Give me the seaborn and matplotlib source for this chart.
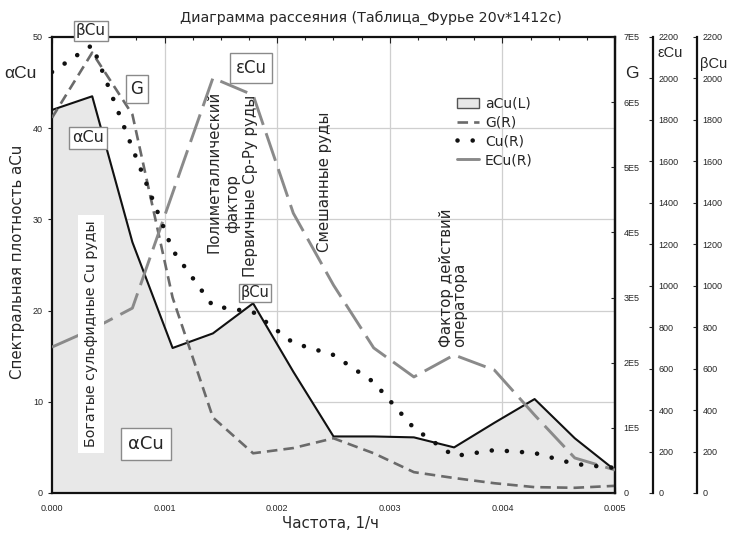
import numpy as np
import pandas as pd
import matplotlib
matplotlib.use("Agg")
import matplotlib.pyplot as plt
from matplotlib.lines import Line2D
from matplotlib.patches import Patch
from matplotlib.ticker import FixedLocator, MultipleLocator
import seaborn as sns

# ---------------- data ----------------
freq = [0.0, 0.000357, 0.000714, 0.001071, 0.001429, 0.001786, 0.002143, 0.0025,
        0.002857, 0.003214, 0.003571, 0.003929, 0.004286, 0.004643, 0.005]
aCu = [42.0, 43.5, 27.5, 15.9, 17.5, 20.8, 13.3, 6.2, 6.2, 6.1, 5.0, 7.7, 10.3, 6.0, 2.5]
G = [5.76e5, 6.76e5, 5.81e5, 3.0e5, 1.16e5, 0.61e5, 0.69e5, 0.84e5, 0.61e5, 0.32e5,
     0.23e5, 0.15e5, 0.09e5, 0.08e5, 0.11e5]
Cu = [2031, 2161, 1664, 1172, 902, 873, 724, 666, 535, 313, 178, 207, 193, 140, 121]
ECu = [704, 790, 892, 1447, 2002, 1920, 1350, 1003, 700, 560, 666, 593, 376, 169, 111]

x_ticks = [0.0, 0.001, 0.002, 0.003, 0.004, 0.005]
x_ticklabels = ["0.000", "0.001", "0.002", "0.003", "0.004", "0.005"]
left_ticks = [0, 10, 20, 30, 40, 50]
g_ticks = [0, 1e5, 2e5, 3e5, 4e5, 5e5, 6e5, 7e5]
g_ticklabels = ["0", "1E5", "2E5", "3E5", "4E5", "5E5", "6E5", "7E5"]
r_ticks = [0, 200, 400, 600, 800, 1000, 1200, 1400, 1600, 1800, 2000, 2200]

title = "Диаграмма рассеяния (Таблица_Фурье 20v*1412c)"
xlabel = "Частота, 1/ч"
ylabel = "Спектральная плотность aCu"
legend_labels = ["aCu(L)", "G(R)", "Cu(R)", "ECu(R)"]

df = pd.DataFrame({"freq": freq, "aCu": aCu, "G": G, "Cu": Cu, "ECu": ECu})

# ---------------- style ----------------
sns.set_theme(style="white")
plt.rcParams["font.family"] = ["Liberation Sans", "DejaVu Sans"]
WIDE = ["DejaVu Sans"]

W, H = 731, 539
fig = plt.figure(figsize=(W / 100, H / 100), dpi=100)
L, R, T, B = 52, 615, 37, 493
ax = fig.add_axes([L / W, 1 - B / H, (R - L) / W, (B - T) / H])


def P(px, py):
    return (px / W, 1 - py / H)


DOT = (0, (0.01, 3.3))
GDASH = (0, (4.0, 2.3))
EDASH = (0, (10, 3.0))

# main axis (aCu, left)
ax.set_xlim(0, 0.005)
ax.set_ylim(0, 50)
ax.fill_between(df["freq"], df["aCu"], color="#e8e8e8", zorder=1)
sns.lineplot(data=df, x="freq", y="aCu", ax=ax, color="#111111", lw=1.5, sort=False, zorder=3)
for xv in x_ticks[1:-1]:
    ax.axvline(xv, color="#cfcfcf", lw=0.9, zorder=0.5)
for yv in left_ticks[1:-1]:
    ax.axhline(yv, color="#cfcfcf", lw=0.9, zorder=0.5)
ax.set_xticks(x_ticks)
ax.set_xticklabels(x_ticklabels)
ax.set_yticks(left_ticks)
ax.xaxis.set_minor_locator(MultipleLocator(0.00025))
ax.tick_params(axis="x", which="both", direction="in", top=True, bottom=True,
               labelsize=6.5, pad=8, length=4, width=0.8, color="#222")
ax.tick_params(axis="x", which="minor", length=2)
ax.tick_params(axis="y", direction="out", labelsize=6.5, length=3, width=0.8, color="#222")
ax.set_xlabel("")
ax.set_ylabel("")
for s in ax.spines.values():
    s.set_color("#111111")
    s.set_linewidth(1.6)

# G axis (right spine)
axG = ax.twinx()
axG.set_ylim(0, 7e5)
sns.lineplot(data=df, x="freq", y="G", ax=axG, color="#6a6a6a", lw=1.9, sort=False,
             linestyle=GDASH)
axG.yaxis.set_major_locator(FixedLocator(g_ticks))
axG.set_yticklabels(g_ticklabels)
axG.tick_params(axis="y", direction="in", labelsize=6.5, length=3, width=0.8, pad=6)
axG.set_ylabel("")
axG.set_xlabel("")

# ECu axis
axE = ax.twinx()
axE.spines["right"].set_position(("axes", (653 - L) / (R - L)))
axE.set_ylim(0, 2200)
sns.lineplot(data=df, x="freq", y="ECu", ax=axE, color="#8a8a8a", lw=2.1, sort=False,
             linestyle=EDASH)
axE.set_yticks(r_ticks)
axE.tick_params(axis="y", direction="in", labelsize=6.5, length=3, width=0.8, pad=4)
axE.set_ylabel("")
axE.set_xlabel("")

# Cu axis (beta)
axB = ax.twinx()
axB.spines["right"].set_position(("axes", (697 - L) / (R - L)))
axB.set_ylim(0, 2200)
sns.lineplot(data=df, x="freq", y="Cu", ax=axB, color="#111111", lw=3.3, sort=False,
             linestyle=DOT, dash_capstyle="round")
axB.set_yticks(r_ticks)
axB.tick_params(axis="y", direction="in", labelsize=6.5, length=3, width=0.8, pad=4)
axB.set_ylabel("")
axB.set_xlabel("")

for a in (axG, axE, axB):
    for name, s in a.spines.items():
        if name != "right":
            s.set_visible(False)
        else:
            s.set_color("#111111")
            s.set_linewidth(1.6)
    a.set_xlim(0, 0.005)
    a.grid(False)

# ---------------- texts ----------------
fig.text(*P(371, 18), title, ha="center", va="center", fontsize=10.3, family=WIDE)
fig.text(*P(330, 523), xlabel, ha="center", va="center", fontsize=10.8, family=WIDE)
fig.text(*P(18, 262), ylabel, ha="center", va="center", rotation=90, fontsize=10.8,
         family=WIDE)
fig.text(*P(20, 73), "αCu", ha="center", va="center", fontsize=12.5)
fig.text(*P(632, 73), "G", ha="center", va="center", fontsize=12.5)
fig.text(*P(670, 53), "εCu", ha="center", va="center", fontsize=10.5)
fig.text(*P(714, 64), "βCu", ha="center", va="center", fontsize=10.5)


def box(pad):
    return dict(boxstyle=f"square,pad={pad}", fc="white", ec="#8a8a8a", lw=1.0)


fig.text(*P(91, 31), "βCu", ha="center", va="center", fontsize=11, bbox=box(0.15),
         family=WIDE, zorder=10)
fig.text(*P(137, 89), "G", ha="center", va="center", fontsize=12, bbox=box(0.3),
         family=WIDE, zorder=10)
fig.text(*P(88, 138), "αCu", ha="center", va="center", fontsize=11.5, bbox=box(0.2),
         family=WIDE, zorder=10)
fig.text(*P(251, 68), "εCu", ha="center", va="center", fontsize=12, bbox=box(0.35),
         family=WIDE, zorder=10)
fig.text(*P(255, 293), "βCu", ha="center", va="center", fontsize=10.5, bbox=box(0.1),
         family=WIDE, zorder=10)
fig.text(*P(146, 444), "αCu", ha="center", va="center", fontsize=13, bbox=box(0.4),
         family=WIDE, zorder=10)

RS = 10.8
fig.text(*P(91, 334), "Богатые сульфидные Cu руды", ha="center", va="center",
         rotation=90, fontsize=10.2, family=WIDE,
         bbox=dict(boxstyle="square,pad=0.4", fc="white", ec="none"), zorder=10)
fig.text(*P(214, 253), "Полиметаллический", ha="center", va="bottom", rotation=90,
         fontsize=RS, family=WIDE, zorder=10)
fig.text(*P(233, 233), "фактор", ha="center", va="bottom", rotation=90,
         fontsize=RS, family=WIDE, zorder=10)
fig.text(*P(250, 277), "Первичные Ср-Ру руды", ha="center", va="bottom", rotation=90,
         fontsize=RS, family=WIDE, zorder=10)
fig.text(*P(325, 252), "Смешанные руды", ha="center", va="bottom", rotation=90,
         fontsize=RS, family=WIDE, zorder=10)
fig.text(*P(453, 347), "Фактор действий\nоператора", ha="center", va="bottom",
         rotation=90, multialignment="left", fontsize=RS, family=WIDE,
         linespacing=0.9, zorder=10)

# ---------------- legend ----------------
handles = [
    Patch(facecolor="#e8e8e8", edgecolor="#555555", lw=1.0),
    Line2D([], [], color="#6a6a6a", lw=1.9, linestyle=GDASH),
    Line2D([], [], color="#111111", lw=3.3, linestyle=DOT, dash_capstyle="round"),
    Line2D([], [], color="#8a8a8a", lw=2.1),
]
fig.legend(handles, legend_labels, loc="upper left", bbox_to_anchor=P(451, 91),
           frameon=False, prop={"family": WIDE, "size": 10}, handlelength=1.6,
           handletextpad=0.45, labelspacing=0.35, borderaxespad=0)

fig.savefig("out.png", dpi=100)
